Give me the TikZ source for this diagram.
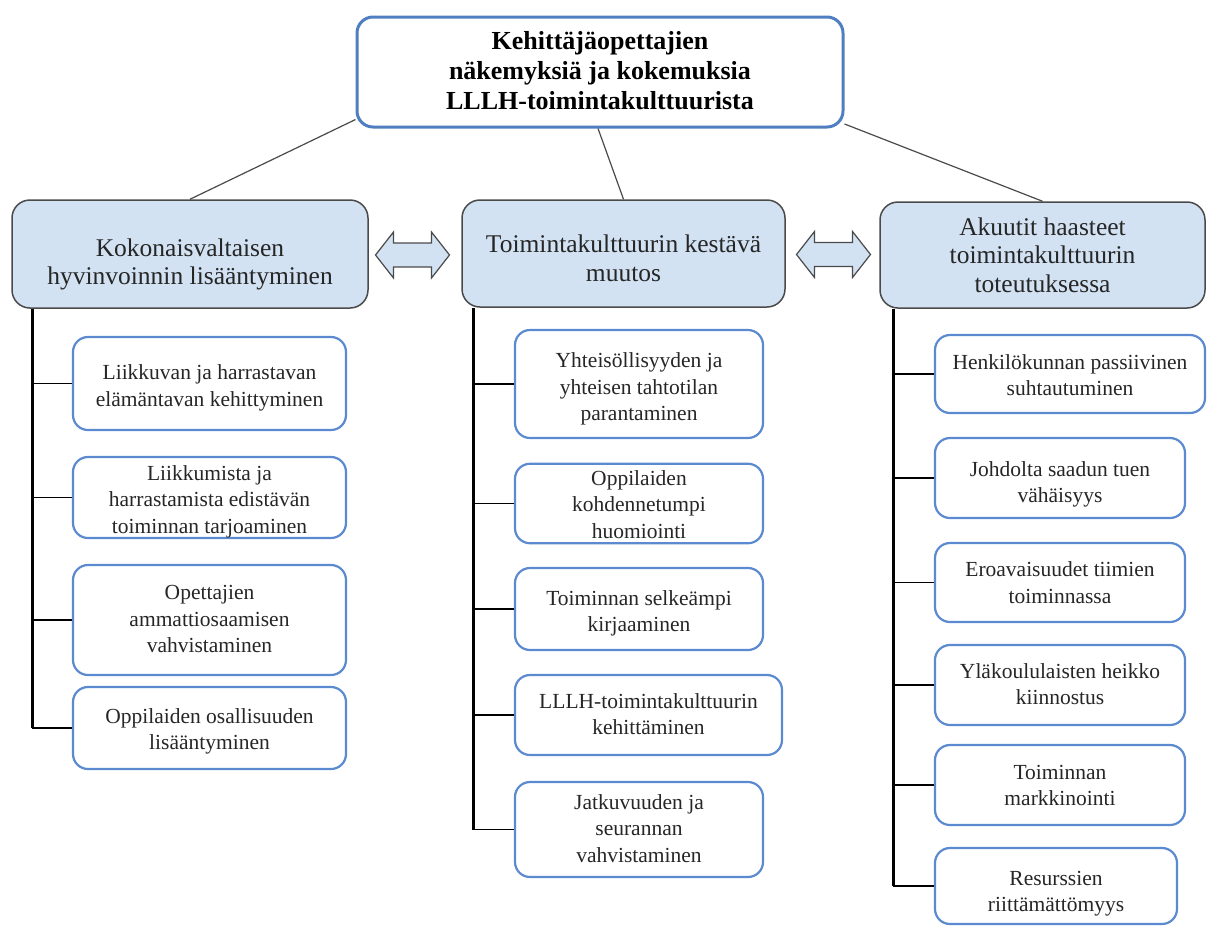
\documentclass[tikz,border=0pt]{standalone}
\usepackage{fontspec}
\setmainfont{Liberation Serif}
\definecolor{titleblue}{HTML}{4F7FC0}
\definecolor{childblue}{HTML}{5B8AD0}
\definecolor{catfill}{HTML}{D2E2F3}
\definecolor{catdraw}{HTML}{4A4A4A}
\definecolor{txt}{HTML}{262626}
\newcommand\dropby[2]{\raisebox{-#1}[\height][\depth]{\begin{tabular}{@{}c@{}}#2\end{tabular}}}
\tikzset{
  titlebox/.style={draw=titleblue, line width=3pt, rounded corners=16pt, fill=white,
    align=center, font=\fontsize{26}{30}\selectfont\bfseries, text=black, inner sep=0pt},
  catbox/.style={draw=catdraw, line width=1.5pt, fill=catfill, rounded corners=18pt,
    align=center, font=\fontsize{25.5}{28.5}\selectfont, text=txt, inner sep=0pt},
  childbox/.style={draw=childblue, line width=2.2pt, rounded corners=15pt, fill=white,
    align=center, font=\fontsize{21.5}{26.5}\selectfont, text=txt, inner sep=0pt},
  trunk/.style={line width=3pt, draw=black},
  branch/.style={line width=1.2pt, draw=black},
  link/.style={line width=1.2pt, draw=catdraw},
  dblarrow/.style={draw=catdraw, line width=1.2pt, fill=catfill}
}
\begin{document}
\begin{tikzpicture}[x=1pt,y=-1pt]
\useasboundingbox (0,0) rectangle (1207,927);

% title
\node[titlebox, minimum width=486, minimum height=110] (title) at (600,72)
  {\dropby{1pt}{Kehittäjäopettajien\\näkemyksiä ja kokemuksia\\LLLH-toimintakulttuurista}};

% categories
\node[catbox, minimum width=356, minimum height=108] (catL) at (190,254)
  {\dropby{11pt}{Kokonaisvaltaisen\\hyvinvoinnin lisääntyminen}};
\node[catbox, minimum width=323, minimum height=107] (catM) at (623.5,253.5)
  {\dropby{8pt}{Toimintakulttuurin kestävä\\muutos}};
\node[catbox, minimum width=325, minimum height=106] (catR) at (1042.5,255)
  {Akuutit haasteet\\toimintakulttuurin\\toteutuksessa};

% links from title
\draw[link] (title.191.8) -- (catL.north);
\draw[link] (title.268) -- (catM.north);
\draw[link] (title.348.8) -- (catR.north);

% double arrows
\foreach \cx/\cy in {412.5/255, 833.5/254.5}{
  \draw[dblarrow] (\cx-37,\cy) -- (\cx-19,\cy-23) -- (\cx-19,\cy-12) -- (\cx+19,\cy-12)
    -- (\cx+19,\cy-23) -- (\cx+37,\cy) -- (\cx+19,\cy+23) -- (\cx+19,\cy+12)
    -- (\cx-19,\cy+12) -- (\cx-19,\cy+23) -- cycle;
}

% left children
\node[childbox, minimum width=273, minimum height=93] (C1) at (209.5,383.5)
  {\dropby{4pt}{Liikkuvan ja harrastavan\\elämäntavan kehittyminen}};
\node[childbox, minimum width=273, minimum height=81] (C2) at (209.5,497.5)
  {\dropby{4pt}{Liikkumista ja\\harrastamista edistävän\\toiminnan tarjoaminen}};
\node[childbox, minimum width=273, minimum height=110] (C3) at (209.5,620)
  {\dropby{1pt}{Opettajien\\ammattiosaamisen\\vahvistaminen}};
\node[childbox, minimum width=273, minimum height=82] (C4) at (209.5,728)
  {\dropby{3pt}{Oppilaiden osallisuuden\\lisääntyminen}};

% middle children
\node[childbox, minimum width=248, minimum height=108] (M1) at (639,384)
  {\dropby{5pt}{Yhteisöllisyyden ja\\yhteisen tahtotilan\\parantaminen}};
\node[childbox, minimum width=248, minimum height=79] (M2) at (639,503.5)
  {\dropby{3pt}{Oppilaiden\\kohdennetumpi\\huomiointi}};
\node[childbox, minimum width=248, minimum height=82] (M3) at (639,609)
  {\dropby{4pt}{Toiminnan selkeämpi\\kirjaaminen}};
\node[childbox, minimum width=267, minimum height=80] (M4) at (648.5,715)
  {\dropby{1pt}{LLLH-toimintakulttuurin\\kehittäminen}};
\node[childbox, minimum width=248, minimum height=95] (M5) at (639,829.5)
  {\dropby{1pt}{Jatkuvuuden ja\\seurannan\\vahvistaminen}};

% right children
\node[childbox, minimum width=270, minimum height=78] (R1) at (1070,374)
  {\dropby{3pt}{Henkilökunnan passiivinen\\suhtautuminen}};
\node[childbox, minimum width=250, minimum height=80] (R2) at (1060,478)
  {\dropby{6pt}{Johdolta saadun tuen\\vähäisyys}};
\node[childbox, minimum width=250, minimum height=79] (R3) at (1060,582.5)
  {\dropby{2pt}{Eroavaisuudet tiimien\\toiminnassa}};
\node[childbox, minimum width=250, minimum height=80] (R4) at (1060,685)
  {\dropby{1pt}{Yläkoululaisten heikko\\kiinnostus}};
\node[childbox, minimum width=250, minimum height=80] (R5) at (1060,785)
  {\dropby{2pt}{Toiminnan\\markkinointi}};
\node[childbox, minimum width=242, minimum height=76] (R6) at (1056,886)
  {\dropby{7pt}{Resurssien\\riittämättömyys}};

% trunks
\path (catL.south west) ++(21,0) coordinate (tL);
\path (catM.south west) ++(12,0) coordinate (tM);
\path (catR.south west) ++(14,0) coordinate (tR);
\draw[trunk] (tL) -- (tL |- C4.west);
\draw[trunk] (tM) -- (tM |- M5.west);
\draw[trunk] (tR) -- (tR |- R6.west);

% branches
\foreach \c in {C1,C2,C3,C4}{ \draw[branch] (tL |- \c.west) -- (\c.west); }
\foreach \c in {M1,M2,M3,M4,M5}{ \draw[branch] (tM |- \c.west) -- (\c.west); }
\foreach \c in {R1,R2,R3,R4,R5,R6}{ \draw[branch] (tR |- \c.west) -- (\c.west); }
\end{tikzpicture}
\end{document}
